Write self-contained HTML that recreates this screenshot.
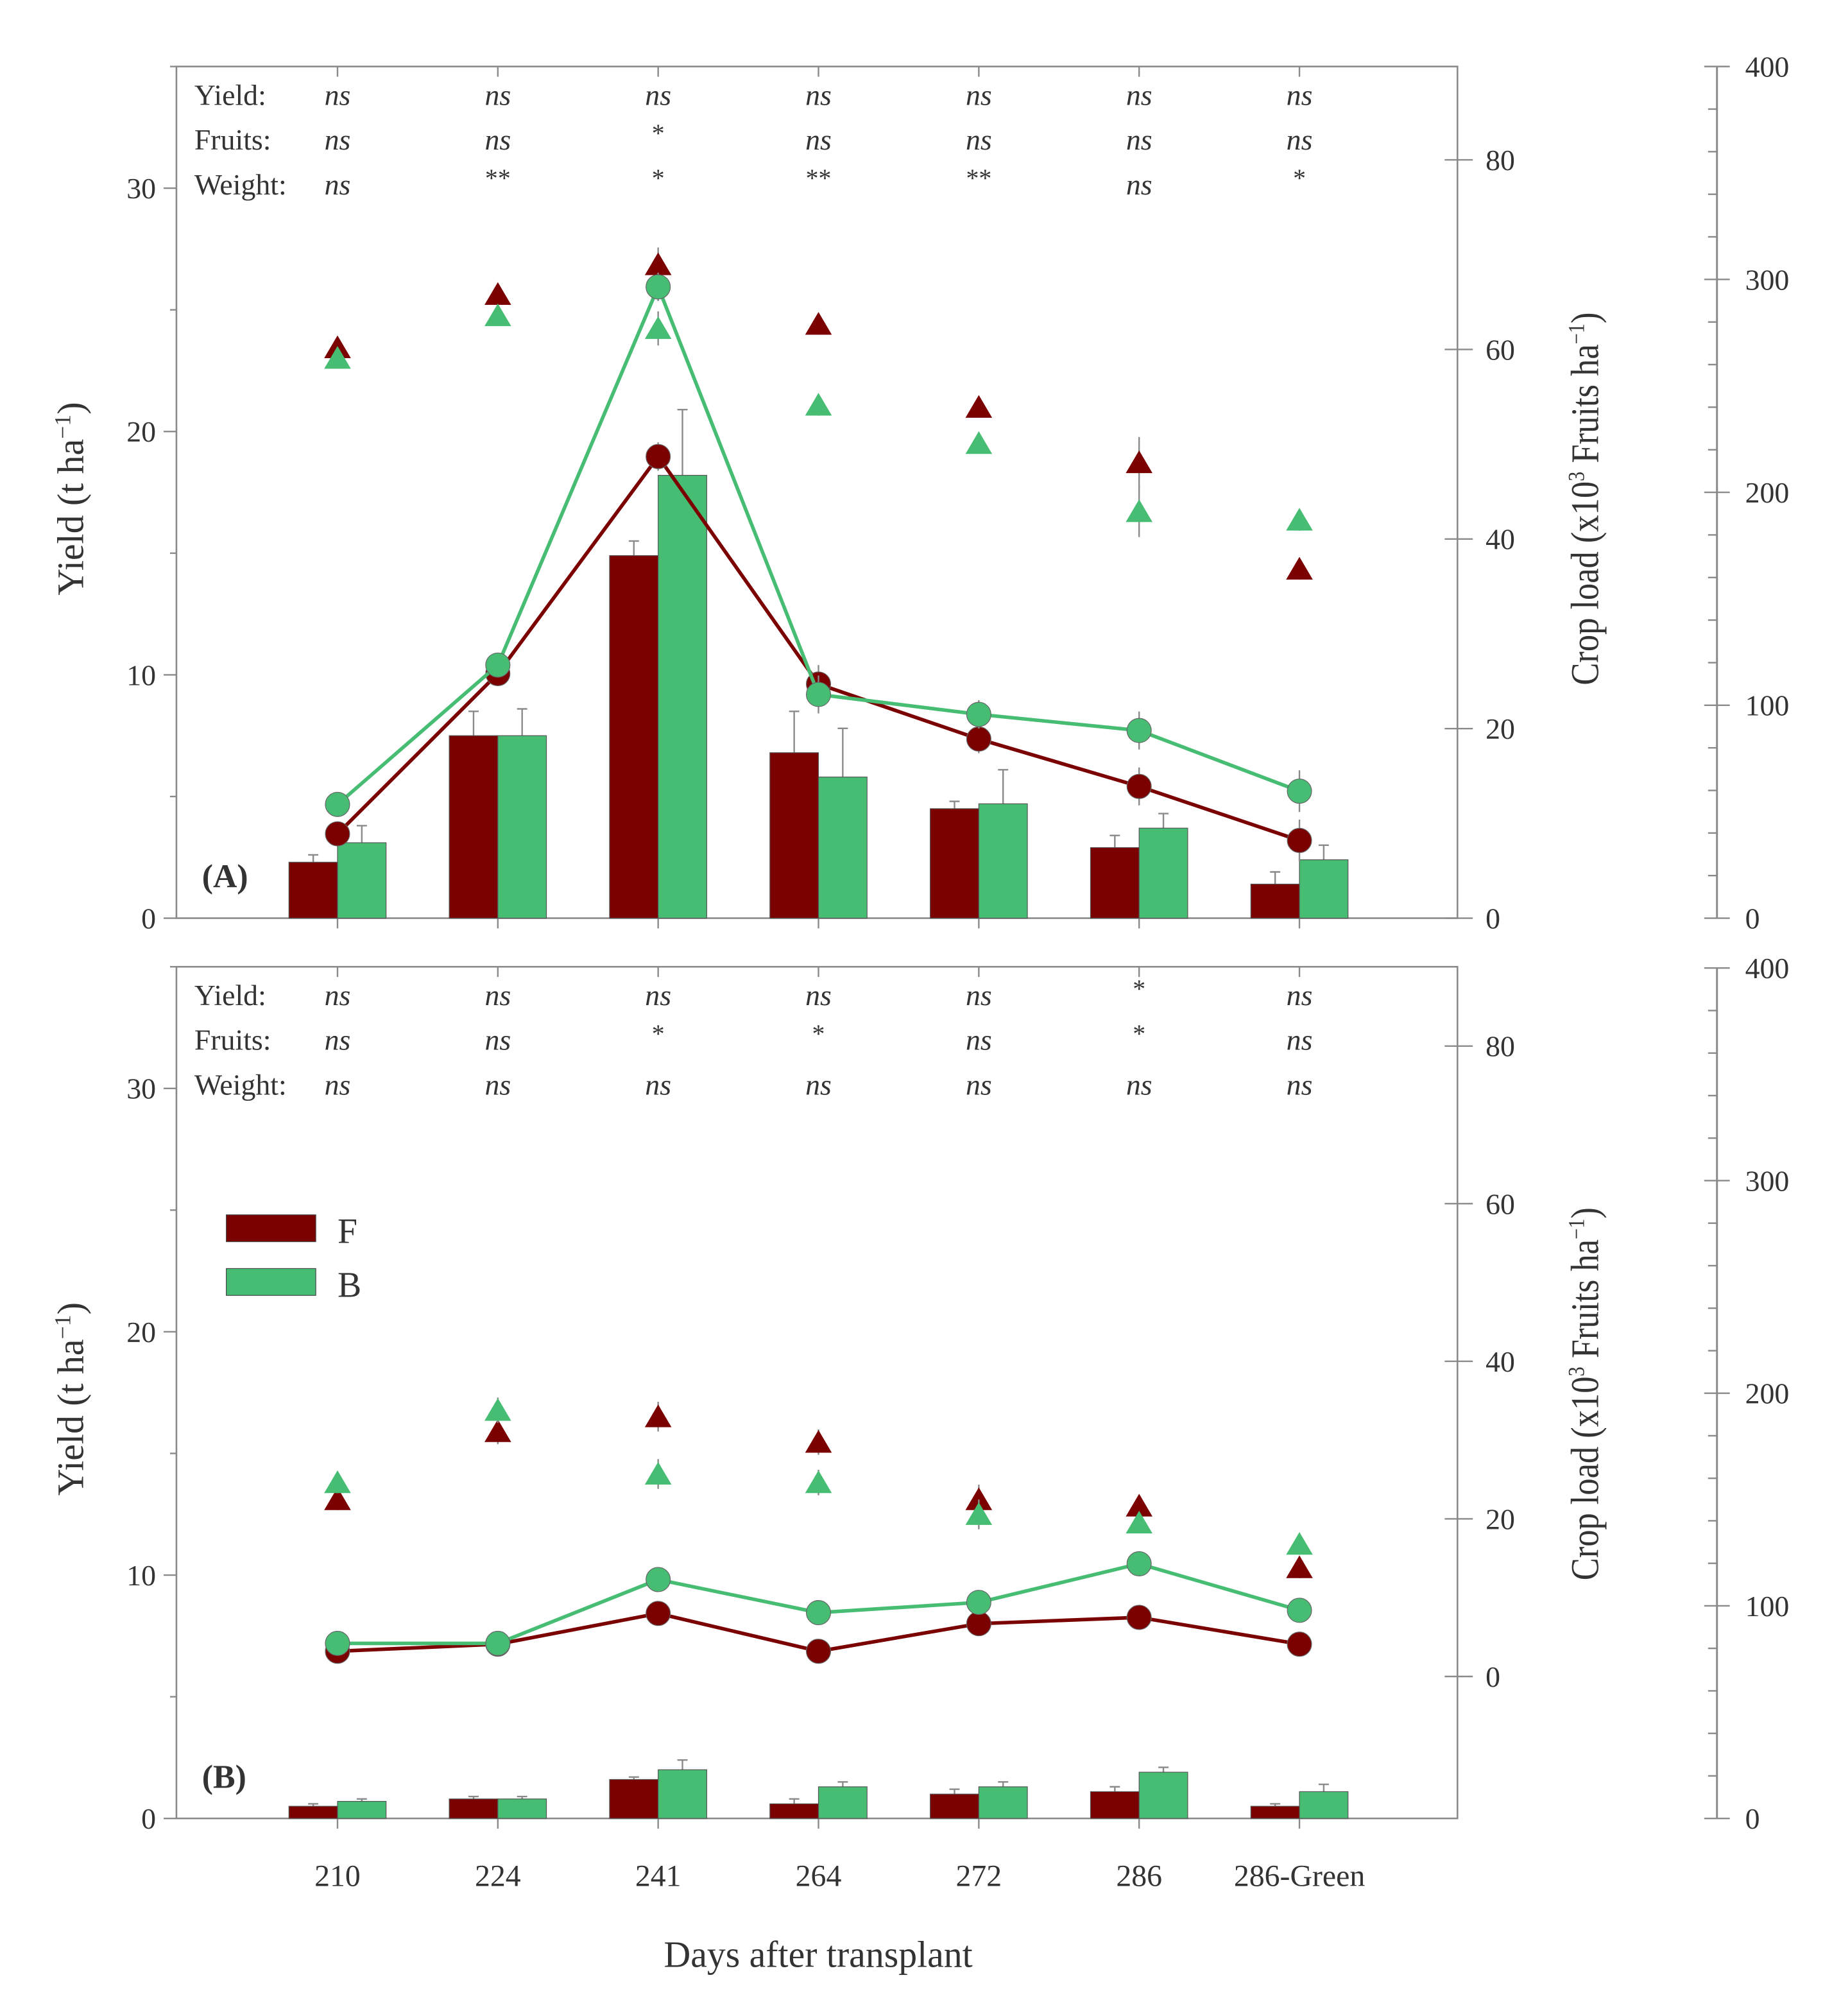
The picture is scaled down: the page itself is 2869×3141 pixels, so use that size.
<!DOCTYPE html>
<html><head><meta charset="utf-8">
<style>
html,body{margin:0;padding:0;background:#fff;}
svg{display:block;}
text{font-family:"Liberation Serif",serif;fill:#333;}
</style></head>
<body>
<svg id="chart" xmlns="http://www.w3.org/2000/svg" width="2869" height="3141" viewBox="0 0 1440 1576.5"></svg>
<script>
const categories = ["210","224","241","264","272","286","286-Green"];
// Panel A
const aBarF = [2.3, 7.5, 14.9, 6.8, 4.5, 2.9, 1.4];
const aBarB = [3.1, 7.5, 18.2, 5.8, 4.7, 3.7, 2.4];
const aBarFErr = [0.3, 1.0, 0.6, 1.7, 0.3, 0.5, 0.5];
const aBarBErr = [0.7, 1.1, 2.7, 2.0, 1.4, 0.6, 0.6];
const aCircF = [8.9, 25.8, 48.7, 24.7, 18.9, 13.9, 8.2];
const aCircB = [12.0, 26.7, 66.6, 23.6, 21.5, 19.8, 13.4];
const aCircErr = [0.6, 1.2, 1.5, 2.0, 1.5, 2.0, 2.2];
const aTriF = [268, 293, 307, 279, 240, 214, 164];
const aTriB = [263, 283, 277, 241, 223, 191, 187];
const aTriErr = [4, 3, 8, 5, 3, 12, 5];
const aSigYield = ["ns","ns","ns","ns","ns","ns","ns"];
const aSigFruits = ["ns","ns","*","ns","ns","ns","ns"];
const aSigWeight = ["ns","**","*","**","**","ns","*"];
// Panel B
const bBarF = [0.5, 0.8, 1.6, 0.6, 1.0, 1.1, 0.5];
const bBarB = [0.7, 0.8, 2.0, 1.3, 1.3, 1.9, 1.1];
const bBarFErr = [0.1, 0.1, 0.1, 0.2, 0.2, 0.2, 0.1];
const bBarBErr = [0.1, 0.1, 0.4, 0.2, 0.2, 0.2, 0.3];
const bCircF = [3.2, 4.1, 8.0, 3.2, 6.7, 7.5, 4.1];
const bCircB = [4.2, 4.2, 12.3, 8.1, 9.4, 14.3, 8.4];
const bCircErr = [0.5, 0.5, 1.0, 0.8, 1.0, 1.5, 1.5];
const bTriF = [150, 182, 189, 177, 150, 147, 118];
const bTriB = [158, 192, 162, 158, 143, 139, 129];
const bTriErr = [5, 6, 7, 6, 7, 4, 5];
const bSigYield = ["ns","ns","ns","ns","ns","*","ns"];
const bSigFruits = ["ns","ns","*","*","ns","*","ns"];
const bSigWeight = ["ns","ns","ns","ns","ns","ns","ns"];
const leftTicks = [0,10,20,30];
const midTicks = [0,20,40,60,80];
const rightTicks = [0,100,200,300,400];

const NS="http://www.w3.org/2000/svg";
const svg=document.getElementById('chart');
const RED="#7b0000", GREEN="#47bd74", AX="#8a8a8a";
function mk(tag,attrs,parent){const e=document.createElementNS(NS,tag);for(const k in attrs)e.setAttribute(k,attrs[k]);(parent||svg).appendChild(e);return e;}
const L=138,R=1140,RX=1343;
const xPos=i=>264+i*125.4;

function panel(cfg){
  const g=mk('g',{});
  
  
  const yL=v=>cfg.bot-(v/35)*(cfg.bot-cfg.top);
  const yM=v=>cfg.m0-v*(cfg.m0-cfg.m80)/80;
  const yR=v=>cfg.bot-(v/400)*(cfg.bot-cfg.rTop);
  // frame
  const fr=mk('rect',{x:L,y:cfg.top,width:R-L,height:cfg.bot-cfg.top,fill:'none',stroke:AX,'stroke-width':1.3},g);
  
  
  // left ticks
  for(let v=0;v<=35;v+=5){const y=yL(v);const big=v%10===0;mk('line',{x1:L-(big?10:5),x2:L,y1:y,y2:y,stroke:AX,'stroke-width':1.2},g);}
  leftTicks.forEach(v=>{const t=mk('text',{x:L-16,y:yL(v)+8,'text-anchor':'end','font-size':23},g);t.textContent=v;
    
    });
  // x ticks
  categories.forEach((c,i)=>{mk('line',{x1:xPos(i),x2:xPos(i),y1:cfg.bot,y2:cfg.bot+8,stroke:AX,'stroke-width':1.2},g);mk('line',{x1:xPos(i),x2:xPos(i),y1:cfg.top,y2:cfg.top+8,stroke:AX,'stroke-width':1.2},g);});
  // mid axis
  midTicks.forEach(v=>{const y=yM(v);mk('line',{x1:R-10,x2:R+12,y1:y,y2:y,stroke:AX,'stroke-width':1.2},g);
    const t=mk('text',{x:R+22,y:y+8,'font-size':23},g);t.textContent=v;
    
    });
  // right axis
  mk('line',{x1:RX,x2:RX,y1:cfg.rTop,y2:cfg.bot,stroke:AX,'stroke-width':1.5},g);
  for(let v=0;v<=400;v+=20){const y=yR(v);const big=v%100===0;mk('line',{x1:RX-(big?10:7),x2:RX+(big?10:0),y1:y,y2:y,stroke:AX,'stroke-width':1.2},g);}
  rightTicks.forEach(v=>{const t=mk('text',{x:RX+22,y:yR(v)+8,'font-size':23},g);t.textContent=v;
    
    });
  // axis titles
  const yt=mk('text',{transform:`translate(65,${(cfg.top+cfg.bot)/2+5}) rotate(-90)`,'text-anchor':'middle','font-size':29,'font-family':'Liberation Sans'},g);
  yt.innerHTML='Yield (t ha<tspan dy="-10" font-size="18">−1</tspan><tspan dy="10">)</tspan>';
  
  
  const ct=mk('text',{transform:`translate(1250,${cfg.ctY}) rotate(-90) scale(0.85,1)`,'text-anchor':'middle','font-size':31,'font-family':'Liberation Sans'},g);
  ct.innerHTML='Crop load (x10<tspan dy="-11" font-size="18">3</tspan><tspan dy="11"> Fruits ha</tspan><tspan dy="-11" font-size="18">−1</tspan><tspan dy="11">)</tspan>';
  
  
  // sig labels
  const rows=[['Yield:',cfg.sy],['Fruits:',cfg.sf],['Weight:',cfg.sw]];
  rows.forEach((r,k)=>{const y=cfg.top+30+k*35;
    const t=mk('text',{x:152,y:y,'font-size':23},g);t.textContent=r[0];
    
    
    r[1].forEach((s,i)=>{const st=s==='ns';const tt=mk('text',{x:xPos(i),y:st?y:y-6,'text-anchor':'middle','font-size':st?23:20,'font-style':st?'italic':'normal'},g);tt.textContent=s;
      
      });});
  // bars
  const bw=38;
  function bars(vals,errs,off,col,name){vals.forEach((v,i)=>{const x=xPos(i)+off;const y=yL(v);
    const ey=yL(v+errs[i]);mk('line',{x1:x+bw/2,x2:x+bw/2,y1:y,y2:ey,stroke:AX,'stroke-width':1.2},g);mk('line',{x1:x+bw/2-4,x2:x+bw/2+4,y1:ey,y2:ey,stroke:AX,'stroke-width':1.2},g);
    const b=mk('rect',{x:x,y:y,width:bw,height:cfg.bot-y,fill:col,stroke:'#555','stroke-width':0.6},g);
    
    });}
  bars(cfg.bf,cfg.bfe,-bw,RED,'bar-f');
  bars(cfg.bb,cfg.bbe,0,GREEN,'bar-b');
  // triangles
  function tris(vals,col,name){vals.forEach((v,i)=>{const x=xPos(i),y=yR(v),e=cfg.te[i];
    mk('line',{x1:x,x2:x,y1:yR(v-e),y2:yR(v+e),stroke:AX,'stroke-width':1.2},g);
    const p=mk('polygon',{points:`${x-10},${y+8} ${x+10},${y+8} ${x},${y-9}`,fill:col,stroke:col,'stroke-width':0.5},g);
    
    });}
  tris(cfg.tf,RED,'triangle-f');
  tris(cfg.tb,GREEN,'triangle-b');
  // lines with circles
  function line(vals,col,name){const pts=vals.map((v,i)=>`${xPos(i)},${yM(v)}`).join(' ');
    const pl=mk('polyline',{points:pts,fill:'none',stroke:col,'stroke-width':2.8},g);
    
    
    vals.forEach((v,i)=>{const x=xPos(i),e=cfg.ce[i];mk('line',{x1:x,x2:x,y1:yM(v-e),y2:yM(v+e),stroke:AX,'stroke-width':1.2},g);
      const c=mk('circle',{cx:x,cy:yM(v),r:9.5,fill:col,stroke:'#666','stroke-width':0.6},g);
      
      });}
  line(cfg.cf,RED,'crop-load-f');
  line(cfg.cb,GREEN,'crop-load-b');
  const pl=mk('text',{x:158,y:cfg.bot-24,'font-size':26,'font-weight':'bold'},g);pl.textContent=cfg.label;
  
  
}
panel({name:'panel-a',label:'(A)',top:52,bot:718,rTop:52,m0:718,m80:125,ctY:390,
  bf:aBarF,bb:aBarB,bfe:aBarFErr,bbe:aBarBErr,cf:aCircF,cb:aCircB,ce:aCircErr,tf:aTriF,tb:aTriB,te:aTriErr,sy:aSigYield,sf:aSigFruits,sw:aSigWeight});
panel({name:'panel-b',label:'(B)',top:756,bot:1422,rTop:757,m0:1311,m80:818,ctY:1090,
  bf:bBarF,bb:bBarB,bfe:bBarFErr,bbe:bBarBErr,cf:bCircF,cb:bCircB,ce:bCircErr,tf:bTriF,tb:bTriB,te:bTriErr,sy:bSigYield,sf:bSigFruits,sw:bSigWeight});
// x labels
categories.forEach((c,i)=>{const t=mk('text',{x:xPos(i),y:1475,'text-anchor':'middle','font-size':24});t.textContent=c;
  
  });
const xt=mk('text',{x:640,y:1538,'text-anchor':'middle','font-size':29});xt.textContent='Days after transplant';


// legend
[[RED,'F',950],[GREEN,'B',992]].forEach(l=>{
  const r=mk('rect',{x:177,y:l[2],width:70,height:21,fill:l[0],stroke:'#444','stroke-width':0.6});
  
  
  const t=mk('text',{x:264,y:l[2]+22,'font-size':28});t.textContent=l[1];
  
  
});
</script>
</body></html>
